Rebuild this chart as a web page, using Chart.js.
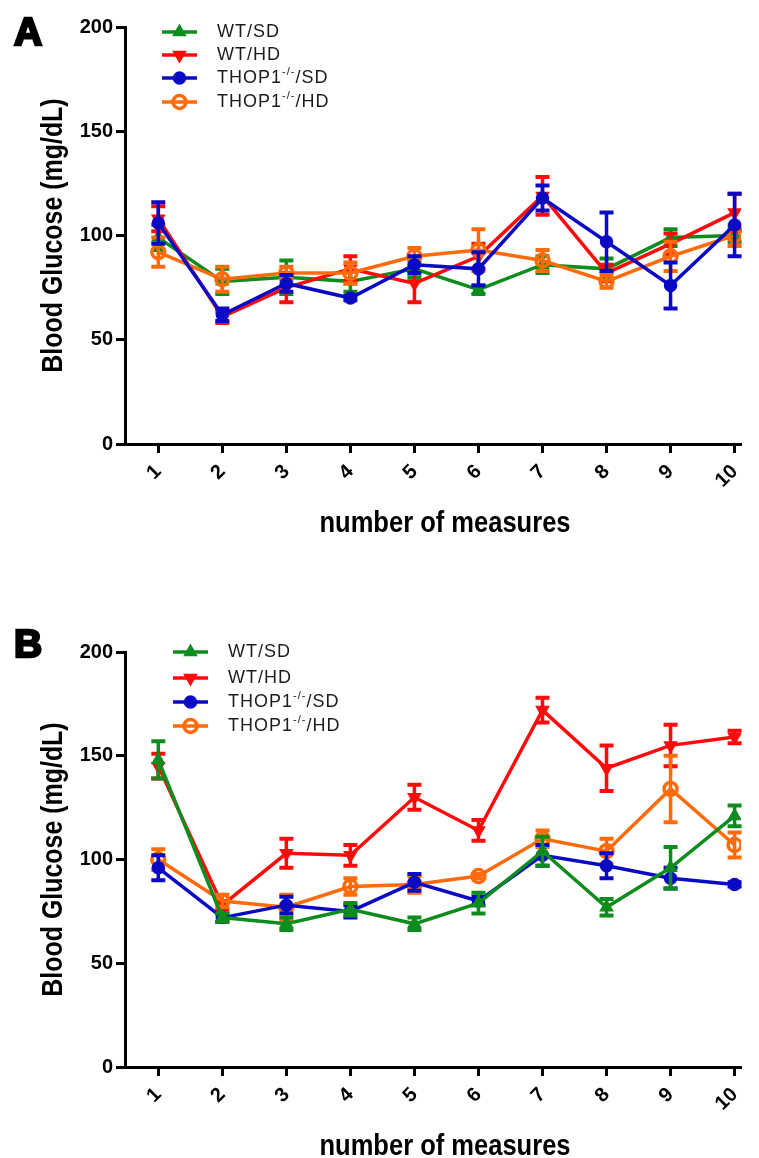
<!DOCTYPE html>
<html>
<head>
<meta charset="utf-8">
<script src="https://cdn.jsdelivr.net/npm/chart.js@4.4.1/dist/chart.umd.min.js"></script>
<style>
  html,body{margin:0;padding:0;background:#fff;}
  #wrap{position:relative;width:759px;height:1158px;}
  canvas{position:absolute;left:0;}
</style>
</head>
<body>
<div id="wrap">
  <canvas id="graficoA" width="759" height="575" style="top:0"></canvas>
  <canvas id="graficoB" width="759" height="583" style="top:575px"></canvas>
</div>
<script>
// datos (media y error por medicion)
const medidas = [1, 2, 3, 4, 5, 6, 7, 8, 9, 10];
const ticksY = [0, 50, 100, 150, 200];
const grupos = ["WT/SD", "WT/HD", "THOP1-/-/SD", "THOP1-/-/HD"];

// panel A
const wtSD_A = [99, 78, 80, 78, 84, 74, 86, 84, 99, 100];
const wtSD_A_err = [6, 6, 8, 5, 4, 2, 4, 5, 4, 3];
const wtHD_A = [108, 61, 75, 84, 77, 90, 119, 82, 96, 111];
const wtHD_A_err = [6, 3, 7, 6, 9, 6, 9, 4, 5, 9];
const koSD_A = [106, 62, 77, 70, 86, 84, 118, 97, 76, 105];
const koSD_A_err = [10, 3, 4, 1, 4, 8, 6, 14, 11, 15];
const koHD_A = [92, 79, 82, 82, 90, 93, 88, 78, 90, 100];
const koHD_A_err = [7, 6, 3, 5, 4, 10, 5, 3, 7, 5];

// panel B
const wtSD_B = [148, 72, 69, 76, 69, 79, 104, 77, 96, 121];
const wtSD_B_err = [9, 2, 3, 3, 3, 5, 7, 4, 10, 5];
const wtHD_B = [145, 78, 103, 102, 130, 114, 172, 144, 155, 159];
const wtHD_B_err = [6, 2, 7, 5, 6, 5, 6, 11, 10, 3];
const koSD_B = [96, 72, 78, 75, 89, 80, 102, 97, 91, 88];
const koSD_B_err = [6, 2, 4, 3, 4, 2, 5, 6, 5, 1];
const koHD_B = [100, 80, 77, 87, 88, 92, 110, 104, 134, 107];
const koHD_B_err = [5, 3, 6, 4, 4, 1, 4, 6, 16, 6];

const VERDE = "#0e8c1e", ROJO = "#ff0a0a", AZUL = "#0a0ac4", NARANJA = "#ff6a0a";

const estilos = [
    {color: VERDE, pointStyle: "triangle", rotation: 0, radius: 7, fill: VERDE},
    {color: ROJO, pointStyle: "triangle", rotation: 180, radius: 7, fill: ROJO},
    {color: AZUL, pointStyle: "circle", rotation: 0, radius: 6, fill: AZUL},
    {color: NARANJA, pointStyle: "circle", rotation: 0, radius: 6.5, fill: "rgba(255,255,255,0)"}
];

function puntos(valores){
    return medidas.map((m, i) => ({x: m, y: valores[i]}));
}

function serie(k, valores, errores, orden){
    const e = estilos[k];
    return {
        label: grupos[k],
        data: puntos(valores),
        errores: errores,
        order: orden,
        borderColor: e.color,
        backgroundColor: e.fill,
        borderWidth: 3.5,
        pointStyle: e.pointStyle,
        pointRotation: e.rotation,
        pointRadius: e.radius,
        pointBorderWidth: k == 3 ? 3.5 : 1.5,
        pointBorderColor: e.color,
        pointBackgroundColor: e.fill,
        tension: 0
    };
}

const barrasError = {
    id: "barrasError",
    beforeDatasetDraw(chart, args){
        const ds = chart.data.datasets[args.index];
        const ctx = chart.ctx;
        const sx = chart.scales.x, sy = chart.scales.y;
        ctx.save();
        ctx.strokeStyle = ds.borderColor;
        ds.data.forEach((p, i) => {
            const e = ds.errores[i];
            const px = sx.getPixelForValue(p.x);
            const arriba = sy.getPixelForValue(p.y + e);
            const abajo = sy.getPixelForValue(p.y - e);
            ctx.lineWidth = 3.5;
            ctx.beginPath();
            ctx.moveTo(px, arriba);
            ctx.lineTo(px, abajo);
            ctx.stroke();
            ctx.lineWidth = 4;
            ctx.beginPath();
            ctx.moveTo(px - 7, arriba); ctx.lineTo(px + 7, arriba);
            ctx.moveTo(px - 7, abajo); ctx.lineTo(px + 7, abajo);
            ctx.stroke();
        });
        ctx.restore();
    }
};

// letra del panel, titulos de ejes y leyenda
const decoracion = {
    id: "decoracion",
    afterDraw(chart, args, op){
        const ctx = chart.ctx;
        const area = chart.chartArea;
        ctx.save();
        ctx.fillStyle = "#000";
        ctx.strokeStyle = "#000";
        ctx.font = "bold 39px 'Liberation Sans', Arial, sans-serif";
        ctx.textAlign = "left";
        ctx.textBaseline = "alphabetic";
        ctx.lineWidth = 2.5;
        ctx.fillText(op.letra, 14, op.letraY);
        ctx.strokeText(op.letra, 14, op.letraY);

        ctx.font = "bold 29px 'Liberation Sans', Arial, sans-serif";
        ctx.textAlign = "center";
        ctx.save();
        ctx.translate(445, area.bottom + 88);
        ctx.scale(0.88, 1);
        ctx.fillText("number of measures", 0, 0);
        ctx.restore();

        ctx.save();
        ctx.translate(62, (area.top + area.bottom) / 2);
        ctx.rotate(-Math.PI / 2);
        ctx.scale(0.86, 1);
        ctx.fillText("Blood Glucose (mg/dL)", 0, 0);
        ctx.restore();

        // leyenda
        op.filas.forEach((y, k) => {
            const e = estilos[k];
            ctx.strokeStyle = e.color;
            ctx.fillStyle = e.fill;
            ctx.lineWidth = 3.5;
            ctx.beginPath();
            ctx.moveTo(op.leyX, y);
            ctx.lineTo(op.leyX + 35, y);
            ctx.stroke();
            ctx.lineWidth = k == 3 ? 3.5 : 1.5;
            Chart.helpers.drawPoint(ctx, {
                pointStyle: e.pointStyle,
                rotation: e.rotation,
                radius: e.radius,
                borderWidth: ctx.lineWidth
            }, op.leyX + 17.5, y);

            ctx.fillStyle = "#1c1c1c";
            ctx.textAlign = "left";
            ctx.textBaseline = "middle";
            ctx.letterSpacing = "1px";
            ctx.font = "18px 'Liberation Sans', Arial, sans-serif";
            let x = op.leyX + 55;
            if (k < 2){
                ctx.fillText(grupos[k], x, y);
            } else {
                ctx.fillText("THOP1", x, y);
                x += ctx.measureText("THOP1").width;
                ctx.font = "11px 'Liberation Sans', Arial, sans-serif";
                ctx.fillText("-/-", x, y - 6);
                x += ctx.measureText("-/-").width;
                ctx.font = "18px 'Liberation Sans', Arial, sans-serif";
                ctx.fillText(k == 2 ? "/SD" : "/HD", x, y);
            }
            ctx.letterSpacing = "0px";
        });
        ctx.restore();
    }
};

function crearGrafico(id, datasets, alto, arriba, abajo, deco){
    return new Chart(document.getElementById(id), {
        type: "line",
        data: {datasets: datasets},
        plugins: [barrasError, decoracion],
        options: {
            responsive: false,
            animation: false,
            devicePixelRatio: 1,
            layout: {padding: {top: arriba, right: 18, left: 0, bottom: 0}},
            plugins: {
                legend: {display: false},
                tooltip: {enabled: false},
                decoracion: deco
            },
            scales: {
                x: {
                    type: "linear",
                    min: 0.48,
                    max: 10.1,
                    afterBuildTicks: s => { s.ticks = medidas.map(v => ({value: v})); },
                    afterFit: s => { s.height = alto - abajo; },
                    grid: {drawOnChartArea: false, drawTicks: true, tickLength: 9, tickWidth: 3, tickColor: "#000"},
                    border: {display: true, color: "#000", width: 3},
                    ticks: {
                        autoSkip: false,
                        minRotation: 45,
                        maxRotation: 45,
                        padding: 7,
                        color: "#000",
                        font: {family: "'Liberation Sans', Arial", weight: "bold", size: 20}
                    }
                },
                y: {
                    min: 0,
                    max: 200,
                    afterBuildTicks: s => { s.ticks = ticksY.map(v => ({value: v})); },
                    afterFit: s => { s.width = 125; },
                    grid: {drawOnChartArea: false, drawTicks: true, tickLength: 9, tickWidth: 3, tickColor: "#000"},
                    border: {display: true, color: "#000", width: 3},
                    ticks: {
                        padding: 3,
                        color: "#000",
                        font: {family: "'Liberation Sans', Arial", weight: "bold", size: 20}
                    }
                }
            }
        }
    });
}

crearGrafico("graficoA", [
    serie(0, wtSD_A, wtSD_A_err, 3),
    serie(1, wtHD_A, wtHD_A_err, 2),
    serie(2, koSD_A, koSD_A_err, 0),
    serie(3, koHD_A, koHD_A_err, 1)
], 575, 27, 444, {letra: "A", letraY: 45, leyX: 162, filas: [32, 55, 78, 102]});

crearGrafico("graficoB", [
    serie(0, wtSD_B, wtSD_B_err, 0),
    serie(1, wtHD_B, wtHD_B_err, 3),
    serie(2, koSD_B, koSD_B_err, 1),
    serie(3, koHD_B, koHD_B_err, 2)
], 583, 77, 492, {letra: "B", letraY: 82, leyX: 173, filas: [77, 103, 127, 151]});
</script>
</body>
</html>
